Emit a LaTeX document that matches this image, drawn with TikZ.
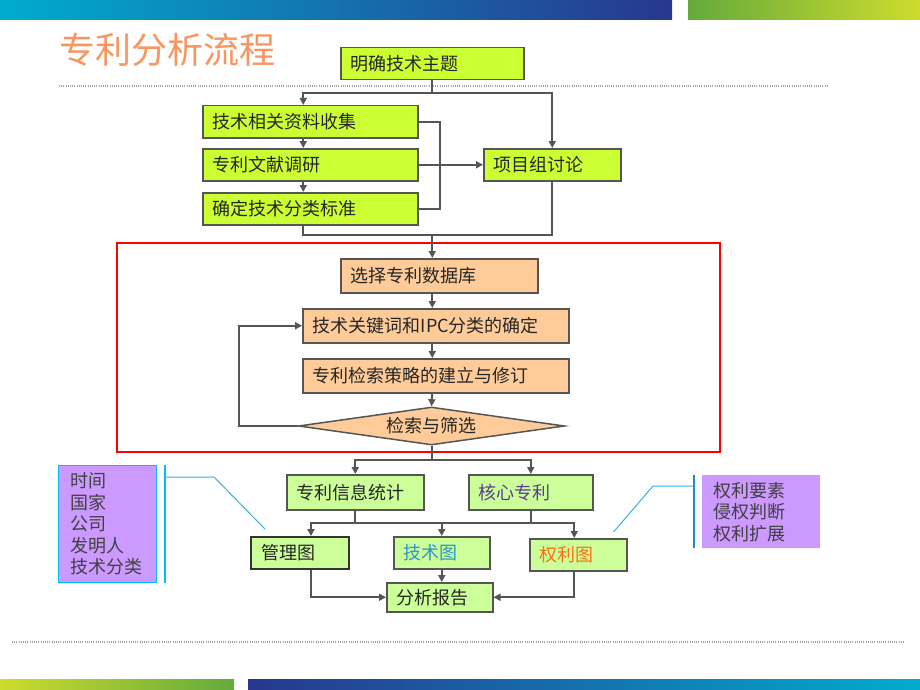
\documentclass[tikz,border=0pt]{standalone}
\usepackage{fontspec}
\usetikzlibrary{shapes.geometric,arrows.meta}
\newfontfamily\cjk{Noto Sans CJK SC}
\definecolor{limefill}{RGB}{204,255,51}
\definecolor{palefill}{RGB}{204,255,153}
\definecolor{peachfill}{RGB}{255,204,153}
\definecolor{lilacfill}{RGB}{204,153,255}
\definecolor{edgegray}{RGB}{85,85,85}
\definecolor{titleorange}{RGB}{247,150,95}
\definecolor{skyline}{RGB}{0,190,240}
\definecolor{tealline}{RGB}{30,140,190}
\definecolor{calloutblue}{RGB}{60,175,225}
\definecolor{barcyan}{RGB}{0,172,205}
\definecolor{barnavy}{RGB}{40,55,140}
\definecolor{bargreen}{RGB}{100,170,60}
\definecolor{baryellow}{RGB}{205,220,45}
\definecolor{techblue}{RGB}{40,150,200}
\definecolor{rightorange}{RGB}{255,110,20}
\definecolor{corepurple}{RGB}{90,60,150}

\begin{document}
\begin{tikzpicture}[x=1pt,y=-1pt,
  every node/.style={font=\cjk\fontsize{18}{21.5}\selectfont,text=black!85},
  stepbox/.style={draw=edgegray,line width=1.5pt,anchor=north west,inner xsep=10pt,inner ysep=0pt,minimum height=#1,align=left},
  topbox/.style={stepbox=32pt,fill=limefill},
  searchbox/.style={stepbox=34pt,fill=peachfill},
  resultbox/.style={stepbox=#1,fill=palefill},
  notebox/.style={fill=lilacfill,anchor=north west,inner xsep=12pt,inner ysep=0pt,align=left,text=black!75},
  link/.style={draw=edgegray,line width=2pt},
  flow/.style={link,-{Triangle[length=7pt,width=7pt]}},
  callout/.style={draw=calloutblue,line width=1pt}]
  \fill[white] (0,0) rectangle (920,690);
  \useasboundingbox (0,0) rectangle (920,690);
  \shade[left color=barcyan,right color=barnavy] (0,0) rectangle (672,20);
  \shade[left color=bargreen,right color=baryellow] (688,0) rectangle (920,20);
  \shade[left color=baryellow,right color=bargreen] (0,679) rectangle (234,690);
  \shade[left color=barnavy,right color=barcyan] (248,679) rectangle (920,690);
  \draw[gray!70,line width=1.5pt,dash pattern=on 1pt off 1.2pt] (59,86) -- (828,86);
  \draw[gray!70,line width=1.5pt,dash pattern=on 1pt off 1.2pt] (12,642) -- (904,642);
  \node[anchor=base west,inner sep=0pt,text=titleorange,font=\cjk\fontsize{36}{40}\selectfont] (title) at (59,64) {专利分析流程};

  \node[topbox,text width=163pt] (theme) at (340,47) {明确技术主题};
  \node[topbox,text width=195pt] (collect) at (202,105) {技术相关资料收集};
  \node[topbox,text width=195pt] (survey) at (202,148) {专利文献调研};
  \node[topbox,text width=195pt] (standard) at (202,192) {确定技术分类标准};
  \node[topbox,text width=117pt] (discuss) at (483,148) {项目组讨论};

  \draw[red,line width=2.5pt] (117,243) rectangle (720,452);
  \node[searchbox,text width=177pt] (database) at (340,258) {选择专利数据库};
  \node[searchbox,text width=246pt] (keyword) at (302,308) {技术关键词和IPC分类的确定};
  \node[searchbox,text width=246pt] (strategy) at (302,358) {专利检索策略的建立与修订};
  \node[diamond,draw=edgegray,line width=1.5pt,fill=peachfill,aspect=7,minimum width=266pt,minimum height=38pt,inner sep=0pt] (search) at (431.5,426) {检索与筛选};

  \node[resultbox=35pt,text width=117pt] (stats) at (286,474) {专利信息统计};
  \node[resultbox=35pt,text width=104pt,text=corepurple] (core) at (468,474) {核心专利};
  \node[resultbox=32pt,text width=78pt,draw=black!80,line width=2pt] (manage) at (250,536) {管理图};
  \node[resultbox=32pt,text width=76pt,text=techblue] (techmap) at (393,536) {技术图};
  \node[resultbox=32pt,text width=77pt,text=rightorange] (rightmap) at (529,538) {权利图};
  \node[resultbox=29pt,text width=86pt] (report) at (386,582) {分析报告};

  \node[notebox,draw=skyline,line width=1pt,text width=74pt,minimum height=117pt] (leftnote) at (58,465) {时间\\国家\\公司\\发明人\\技术分类};
  \node[notebox,inner xsep=11pt,text width=96pt,minimum height=73pt] (rightnote) at (702,475) {权利要素\\侵权判断\\权利扩展};

  \coordinate (topsplit) at ([yshift=-13pt]theme.south);
  \draw[link] (theme.south) -- (topsplit);
  \draw[flow] (topsplit) -| ([xshift=-7pt]collect.north);
  \draw[flow] (topsplit) -| (discuss.north);
  \draw[flow] ([xshift=-7pt]collect.south) -- ([xshift=-7pt]survey.north);
  \draw[flow] ([xshift=-7pt]survey.south) -- ([xshift=-7pt]standard.north);
  \draw[link] (collect.east) -- ++(21,0) |- (standard.east);
  \draw[flow] (survey.east) -- (discuss.west);
  \coordinate (midjoin) at (topsplit |- 0,235);
  \draw[link] ([xshift=-7pt]standard.south) |- (midjoin) -| (discuss.south);
  \draw[flow] (midjoin) -- (midjoin |- database.north);

  \draw[flow] (database.south -| midjoin) -- (keyword.north -| midjoin);
  \draw[flow] (keyword.south -| midjoin) -- (strategy.north -| midjoin);
  \draw[flow] (strategy.south -| midjoin) -- (search.north);
  \draw[flow] (search.west) -- ++(-59,0) |- (keyword.west);

  \coordinate (lowsplit) at ([yshift=-14pt]search.south);
  \draw[link] (search.south) -- (lowsplit);
  \draw[flow] (lowsplit) -| (stats.north);
  \draw[flow] (lowsplit) -| (core.north);
  \coordinate (mapsplit) at (lowsplit |- 0,523);
  \draw[link] (stats.south) |- (mapsplit) -| (core.south);
  \draw[flow] (mapsplit) -| ([xshift=11pt]manage.north);
  \draw[flow] (mapsplit) -| (techmap.north);
  \draw[flow] (mapsplit) -| ([xshift=-4pt]rightmap.north);
  \draw[flow] ([xshift=11pt]manage.south) |- (report.west);
  \draw[flow] (techmap.south) -- (techmap.south |- report.north);
  \draw[flow] ([xshift=-4pt]rightmap.south) |- (report.east);

  \coordinate (leftbar top) at ([xshift=8pt]leftnote.north east);
  \coordinate (leftbar end) at ([xshift=8pt]leftnote.south east);
  \draw[skyline,line width=2pt] (leftbar top) -- (leftbar end);
  \draw[callout] ([yshift=-12pt]leftbar top) -- ++(49,0) -- ([xshift=15pt,yshift=7pt]manage.north west);
  \coordinate (rightbar top) at ([xshift=-8pt]rightnote.north west);
  \coordinate (rightbar end) at ([xshift=-8pt]rightnote.south west);
  \draw[tealline,line width=2.5pt] (rightbar top) -- (rightbar end);
  \draw[callout] ([yshift=-11pt]rightbar top) -- ++(-41,0) -- ([xshift=-14pt,yshift=6pt]rightmap.north east);
\end{tikzpicture}
\end{document}
